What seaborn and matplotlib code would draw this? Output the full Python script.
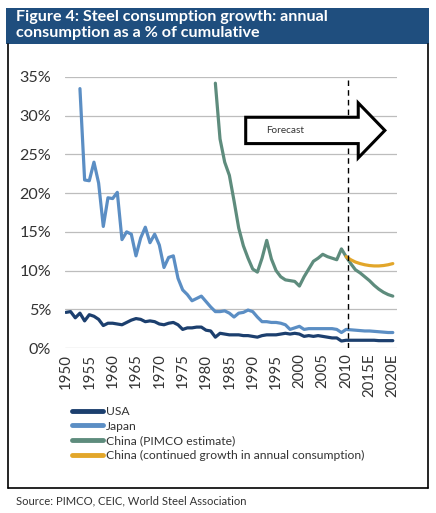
import pandas
import seaborn as sns
from matplotlib import pyplot as plt
from matplotlib.patches import Rectangle, FancyArrow
from matplotlib.lines import Line2D

USA_COLOR = "#1c3f6e"
JAPAN_COLOR = "#5b8ec4"
CHINA_COLOR = "#5e8c7d"
CHINA_ALT_COLOR = "#e2a62a"
BAND_COLOR = "#1f4e7e"

usa_years = list(range(1950, 2021))
usa_values = [
    4.6, 4.7, 3.9, 4.5, 3.5, 4.3, 4.1, 3.7, 2.9, 3.2,
    3.2, 3.1, 3.0, 3.3, 3.6, 3.8, 3.7, 3.4, 3.5, 3.4,
    3.1, 3.0, 3.2, 3.3, 3.0, 2.4, 2.6, 2.6, 2.7, 2.7,
    2.3, 2.2, 1.4, 1.9, 1.8, 1.7, 1.7, 1.7, 1.6, 1.6,
    1.5, 1.4, 1.6, 1.7, 1.7, 1.7, 1.8, 1.9, 1.8, 1.9,
    1.8, 1.5, 1.6, 1.5, 1.6, 1.5, 1.4, 1.3, 1.3, 0.9,
    1.0, 1.0, 1.0, 1.0, 1.0, 1.0, 1.0, 0.95, 0.95, 0.95,
    0.95,
]

japan_years = list(range(1953, 2021))
japan_values = [
    33.5, 21.7, 21.6, 24.0, 21.3, 15.7, 19.4,
    19.3, 20.1, 14.0, 15.0, 14.7, 11.9, 14.2, 15.6, 13.6, 14.7,
    13.3, 10.4, 11.7, 11.9, 9.0, 7.5, 6.9, 6.1, 6.4, 6.7,
    6.0, 5.3, 4.7, 4.7, 4.8, 4.5, 4.0, 4.5, 4.6, 4.9,
    4.7, 4.0, 3.4, 3.4, 3.3, 3.3, 3.2, 3.0, 2.4, 2.6,
    2.8, 2.4, 2.5, 2.5, 2.5, 2.5, 2.5, 2.5, 2.4, 2.0,
    2.4, 2.35, 2.3, 2.25, 2.2, 2.2, 2.15, 2.1, 2.05, 2.0,
    2.0,
]

china_years = list(range(1982, 2021))
china_values = [
    34.2, 27.0, 24.0, 22.3, 19.0, 15.5, 13.2, 11.6,
    10.2, 9.8, 11.6, 13.9, 11.5, 10.0, 9.2, 8.8, 8.7, 8.6,
    8.0, 9.2, 10.2, 11.2, 11.6, 12.1, 11.8, 11.6, 11.4, 12.8,
    11.8, 10.9, 10.1, 9.7, 9.2, 8.7, 8.1, 7.6, 7.2, 6.9,
    6.7,
]

china_alt_years = list(range(2010, 2021))
china_alt_values = [11.8, 11.4, 11.1, 10.9, 10.75, 10.65, 10.6, 10.6, 10.65, 10.75, 10.9]

series_names = [
    "USA",
    "Japan",
    "China (PIMCO estimate)",
    "China (continued growth in annual consumption)",
]

tick_years = list(range(1950, 2021, 5))
tick_labels = [str(y) for y in range(1950, 2015, 5)] + ["2015E", "2020E"]
y_ticks = [0, 5, 10, 15, 20, 25, 30, 35]
y_tick_labels = [f"{v}%" for v in y_ticks]


def build_frame() -> pandas.DataFrame:
    parts = []
    for name, years, values in zip(
        series_names,
        [usa_years, japan_years, china_years, china_alt_years],
        [usa_values, japan_values, china_values, china_alt_values],
    ):
        parts.append(pandas.DataFrame({"year": years, "value": values, "series": name}))
    return pandas.concat(parts, ignore_index=True)


sns.set_style("white")
plt.rcParams["font.family"] = ["Lato", "DejaVu Sans"]

fig = plt.figure(figsize=(4.36, 5.13), dpi=100)
ax = fig.add_axes([65 / 436, 1 - 348 / 513, 332 / 436, 271 / 513])

palette = dict(zip(series_names, [USA_COLOR, JAPAN_COLOR, CHINA_COLOR, CHINA_ALT_COLOR]))
data_frame = build_frame()
sns.lineplot(
    data=data_frame, x="year", y="value", hue="series",
    palette=palette, linewidth=2.3, legend=False, ax=ax,
)

ax.set_xlim(1949.8, 2020.9)
ax.set_ylim(0, 35)
ax.set_yticks(y_ticks)
ax.set_yticklabels(y_tick_labels, fontsize=11.6, color="#333333")
ax.set_xticks(tick_years)
ax.set_xticklabels(tick_labels, rotation=90, fontsize=10.8, color="#333333")
ax.tick_params(axis="y", length=0, pad=10)
ax.tick_params(axis="x", length=0, pad=4)
ax.yaxis.grid(True, color="#bdbdbd", linewidth=0.9)
ax.set_axisbelow(True)
for spine in ax.spines.values():
    spine.set_visible(False)
ax.set_xlabel("")
ax.set_ylabel("")

# forecast marker
ax.axvline(2010.3, ymin=0, ymax=0.99, color="black", linestyle=(0, (4, 3)), linewidth=1)
arrow = FancyArrow(
    1988.5, 28.1, 29.8, 0, width=3.4, head_width=7.1, head_length=5.7,
    length_includes_head=True, facecolor="white", edgecolor="black", linewidth=2.2,
    zorder=5,
)
ax.add_patch(arrow)
ax.text(1992.8, 28.1, "Forecast", fontsize=7.2, va="center", ha="left", color="#333333", zorder=6)

# legend
handles = [Line2D([0], [0], color=palette[n], linewidth=3.5) for n in series_names]
fig.legend(
    handles, series_names, loc="upper left", bbox_to_anchor=(72 / 436, 1 - 406 / 513),
    frameon=False, fontsize=8.7, handlelength=2.55, handletextpad=0.25,
    labelspacing=0.3, borderpad=0, borderaxespad=0, labelcolor="#333333",
)

# title band and frame
fig.patches.append(Rectangle((6 / 436, 1 - 44 / 513), 423 / 436, 36 / 513,
                             transform=fig.transFigure, facecolor=BAND_COLOR, edgecolor="none"))
fig.text(16 / 436, 1 - 17 / 513, "Figure 4: Steel consumption growth: annual",
         color="white", fontsize=11.6, fontweight="bold", va="center", ha="left")
fig.text(16 / 436, 1 - 33 / 513, "consumption as a % of cumulative",
         color="white", fontsize=11.6, fontweight="bold", va="center", ha="left")
for xs, ys in [((8, 8), (44, 488)), ((428, 428), (44, 488)), ((8, 428), (488, 488))]:
    fig.lines.append(Line2D([x / 436 for x in xs], [1 - y / 513 for y in ys],
                            transform=fig.transFigure, color="black", linewidth=1.2))

fig.text(16 / 436, 1 - 501 / 513, "Source: PIMCO, CEIC, World Steel Association",
         fontsize=8.1, color="#333333", va="center", ha="left")

fig.savefig("out.png", dpi=100)
